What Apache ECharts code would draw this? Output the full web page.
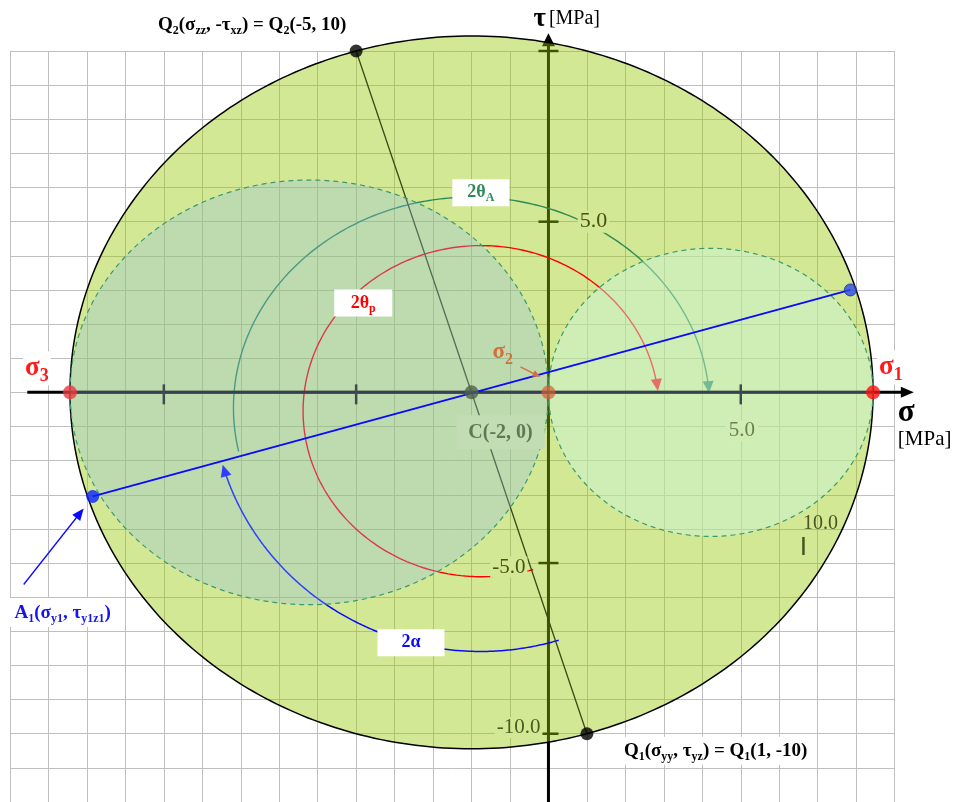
<!DOCTYPE html>
<html><head><meta charset="utf-8">
<script src="https://cdn.jsdelivr.net/npm/echarts@6/dist/echarts.min.js"></script>
<style>html,body{margin:0;padding:0;background:#fff}#c{width:954px;height:802px}</style>
</head><body><div id="c"></div><script>
// ---------- data ----------
const principalStresses = [8.44, 0, -12.44];      // σ1, σ2, σ3 [MPa]
const centreC = [-2, 0];
const pointQ1 = [1, -10];
const pointQ2 = [-5, 10];
const pointA1 = [-11.85, -3.05];
const pointA2 = [7.85, 3.0];
const sigmaTicks = [-10, -5, 5];
const tauTicks = [10, 5, -5, -10];
const tauLabelValues = [5, -5, -10];
const tauLabelTexts = ['5.0', '-5.0', '-10.0'];
const sigmaLabelValues = [5];
const sigmaLabelTexts = ['5.0'];
const strayTick = [6.63, -4.5];
const strayTickText = '10.0';
const sigmaAxisExtent = [-13.55, 9.5];
const tauAxisExtent = [-12.5, 10.52];
// arcs: [centre σ, centre τ, radius σ, radius τ, start angle°, end angle°]
const arcTwoThetaA = [-2.0, -0.45, 6.19, 6.17, 168, 356];
const arcTwoThetaP = [-1.75, -0.55, 4.63, 4.85, 73, 353];
const arcTwoAlpha = [-1.77, -0.04, 6.97, 7.55, 73, 164];

// ---------- derived ----------
const [s1, s2, s3] = principalStresses;
const mohrCircles = [
  [(s1 + s3) / 2, (s1 - s3) / 2],
  [(s2 + s3) / 2, (s2 - s3) / 2],
  [(s1 + s2) / 2, (s1 - s2) / 2]
];
const arcList = [arcTwoThetaA, arcTwoThetaP, arcTwoAlpha];

const FONT = '"Liberation Serif", "Times New Roman", serif';
const chart = echarts.init(document.getElementById('c'), null, {renderer: 'canvas', width: 954, height: 802});

function ellipsePts(c, rx, ry, n) {
  const p = [];
  for (let i = 0; i < n; i++) { const t = 2 * Math.PI * i / n; p.push([c[0] + rx * Math.cos(t), c[1] + ry * Math.sin(t)]); }
  return p;
}
function circleGeom(api, circ) {
  const c = api.coord([circ[0], 0]);
  const e = api.coord([circ[0] + circ[1], circ[1]]);
  return {c, rx: Math.abs(e[0] - c[0]), ry: Math.abs(c[1] - e[1])};
}
function arcGeom(api, a) {
  const c = api.coord([a[0], a[1]]);
  const e = api.coord([a[0] + a[2], a[1] + a[3]]);
  return {c, rx: Math.abs(e[0] - c[0]), ry: Math.abs(e[1] - c[1])};
}
function arcPoint(g, deg) {
  const t = deg * Math.PI / 180;
  return [g.c[0] + g.rx * Math.cos(t), g.c[1] + g.ry * Math.sin(t)];
}
function arrowHead(tip, ux, uy, L, W, color) {
  const b = [tip[0] - ux * L, tip[1] - uy * L];
  return {type: 'polygon', shape: {points: [tip, [b[0] - uy * W, b[1] + ux * W], [b[0] + uy * W, b[1] - ux * W]]}, style: {fill: color}};
}
function arrowLine(from, to, color, width, L, W) {
  const dx = to[0] - from[0], dy = to[1] - from[1], len = Math.hypot(dx, dy);
  const ux = dx / len, uy = dy / len;
  const b = [to[0] - ux * L * 0.8, to[1] - uy * L * 0.8];
  return [
    {type: 'line', shape: {x1: from[0], y1: from[1], x2: b[0], y2: b[1]}, style: {stroke: color, lineWidth: width}},
    arrowHead(to, ux, uy, L, W, color)
  ];
}
function rp(color, size, subSize, subPad, weight) {
  return {
    m: {fill: color, fontSize: size, fontFamily: FONT, fontWeight: weight},
    s: {fill: color, fontSize: subSize, fontFamily: FONT, fontWeight: weight, padding: [subPad, 0, 0, 0]}
  };
}

const arcColors = ['#2e8b57', '#ff0000', '#0a0aff'];
const arcWidths = [1.4, 1.4, 1.5];
const arcLabelCfg = [
  {angle: 272, dx: 1, dy: -4.5, w: 57, h: 27, text: '{m|2θ}{s|A}'},
  {angle: 225, dx: 8, dy: 9, w: 58, h: 27, text: '{m|2θ}{s|p}'},
  {angle: 105, dx: 0, dy: 0, w: 67, h: 27, text: '{m|2α}'}
];

const option = {
  animation: false,
  grid: {left: 10, top: 51, width: 884.6, height: 755.7},
  xAxis: {type: 'value', min: -14, max: 9, interval: 1,
    axisLine: {show: false}, axisTick: {show: false}, axisLabel: {show: false},
    splitLine: {show: true, lineStyle: {color: '#bfbfbf', width: 1}}},
  yAxis: {type: 'value', min: -12, max: 10, interval: 1,
    axisLine: {show: false}, axisTick: {show: false}, axisLabel: {show: false},
    splitLine: {show: true, lineStyle: {color: '#bfbfbf', width: 1}}},
  series: [
    { // axes (black, underneath the circles)
      type: 'custom', z: 1, silent: true, data: [[0, 0]],
      renderItem: (params, api) => {
        const L = api.coord([sigmaAxisExtent[0], 0]), R = api.coord([sigmaAxisExtent[1], 0]);
        const B = api.coord([0, tauAxisExtent[0]]), T = api.coord([0, tauAxisExtent[1]]);
        const kids = [
          {type: 'line', shape: {x1: L[0], y1: L[1], x2: R[0] - 10, y2: R[1]}, style: {stroke: '#000', lineWidth: 3}},
          arrowHead(R, 1, 0, 13, 5.5, '#000'),
          {type: 'line', shape: {x1: B[0], y1: B[1], x2: T[0], y2: T[1] + 10}, style: {stroke: '#000', lineWidth: 3}},
          arrowHead(T, 0, -1, 13, 6.5, '#000')
        ];
        tauTicks.forEach(v => {
          const p = api.coord([0, v]);
          kids.push({type: 'line', shape: {x1: p[0] - 10, y1: p[1], x2: p[0] + 10, y2: p[1]}, style: {stroke: '#000', lineWidth: 2.5}});
        });
        return {type: 'group', children: kids};
      }
    },
    { // big Mohr circle
      type: 'custom', z: 2, silent: true, data: [mohrCircles[0]],
      renderItem: (params, api) => {
        const g = circleGeom(api, mohrCircles[0]);
        return {type: 'polygon', shape: {points: ellipsePts(g.c, g.rx, g.ry, 360)},
          style: {fill: 'rgba(150,200,0,0.42)', stroke: '#000', lineWidth: 1.5}};
      }
    },
    { // Q1-Q2 line
      type: 'line', z: 3, silent: true, symbol: 'none', data: [pointQ2, pointQ1],
      lineStyle: {color: '#3a4a14', width: 1.3}
    },
    { // angle arcs
      type: 'custom', z: 3, silent: true, data: arcList.map(a => [a[0], a[1]]),
      renderItem: (params, api) => {
        const i = params.dataIndex, a = arcList[i], g = arcGeom(api, a);
        const t1 = a[5] * Math.PI / 180;
        let dx = -g.rx * Math.sin(t1), dy = g.ry * Math.cos(t1);
        const len = Math.hypot(dx, dy); dx /= len; dy /= len;
        const L = 12, dt = (L * 0.8) / len * 180 / Math.PI;
        const pts = [], n = 200;
        for (let k = 0; k <= n; k++) pts.push(arcPoint(g, a[4] + (a[5] - dt - a[4]) * k / n));
        const tip = arcPoint(g, a[5]);
        return {type: 'group', children: [
          {type: 'polyline', shape: {points: pts}, style: {stroke: arcColors[i], lineWidth: arcWidths[i], fill: null}},
          arrowHead(tip, dx, dy, L, 5.5, arcColors[i])
        ]};
      }
    },
    { // small Mohr circles (dashed)
      type: 'custom', z: 4, silent: true, data: [mohrCircles[1], mohrCircles[2]],
      renderItem: (params, api) => {
        const circ = mohrCircles[params.dataIndex + 1], g = circleGeom(api, circ);
        const fills = ['rgba(140,190,240,0.30)', 'rgba(200,245,220,0.45)'];
        return {type: 'polygon', shape: {points: ellipsePts(g.c, g.rx, g.ry, 360)},
          style: {fill: fills[params.dataIndex], stroke: '#3a9a6e', lineWidth: 1.2, lineDash: [5, 4]}};
      }
    },
    { // sigma axis overlay inside the circle + sigma ticks
      type: 'custom', z: 5, silent: true, data: [[0, 0]],
      renderItem: (params, api) => {
        const a = api.coord([s3, 0]), b = api.coord([s1, 0]);
        const kids = [{type: 'line', shape: {x1: a[0], y1: a[1], x2: b[0], y2: b[1]}, style: {stroke: '#36424d', lineWidth: 3}}];
        sigmaTicks.forEach(v => {
          const p = api.coord([v, 0]);
          kids.push({type: 'line', shape: {x1: p[0], y1: p[1] - 8, x2: p[0], y2: p[1] + 12}, style: {stroke: '#3f4b4c', lineWidth: 2.5}});
        });
        const st = api.coord(strayTick);
        kids.push({type: 'line', shape: {x1: st[0], y1: st[1] - 9, x2: st[0], y2: st[1] + 9}, style: {stroke: '#4a5420', lineWidth: 2.5}});
        return {type: 'group', children: kids};
      }
    },
    { // A1-A2 line
      type: 'line', z: 6, silent: true, symbol: 'none', data: [pointA1, pointA2],
      lineStyle: {color: '#0a0aff', width: 1.8}
    },
    { // points
      type: 'scatter', z: 7, silent: true, clip: false,
      data: [
        {value: [s3, 0], symbolSize: 14, itemStyle: {color: '#ea3a40'}},
        {value: [s1, 0], symbolSize: 14, itemStyle: {color: '#ff1010'}},
        {value: [s2, 0], symbolSize: 14, itemStyle: {color: 'rgba(212,96,56,0.88)'}},
        {value: centreC, symbolSize: 14, itemStyle: {color: '#4f6448'}},
        {value: pointQ1, symbolSize: 13, itemStyle: {color: '#000'}},
        {value: pointQ2, symbolSize: 13, itemStyle: {color: '#000'}},
        {value: pointA1, symbolSize: 13, itemStyle: {color: '#0a22ff'}},
        {value: pointA2, symbolSize: 12, itemStyle: {color: '#2a4ae8', borderColor: '#1a2a90', borderWidth: 1}}
      ]
    },
    { // labels
      type: 'custom', z: 8, silent: true, data: [[0, 0]],
      renderItem: (params, api) => {
        const kids = [];
        const add = (x, y, text, style) => kids.push({type: 'text', x, y, style: Object.assign({text}, style)});
        const plain = (size, color, weight) => ({fontSize: size, fontFamily: FONT, fontWeight: weight || 'normal', fill: color});

        // Q2 / Q1 labels
        const q2 = api.coord(pointQ2), q1 = api.coord(pointQ1);
        add(q2[0] - 104, q2[1] - 26, '{m|Q}{s|2}{m|(σ}{s|zz}{m|, -τ}{s|xz}{m|) = Q}{s|2}{m|(-5, 10)}',
          {rich: rp('#000', 19, 12, 12, 'bold'), align: 'center', verticalAlign: 'middle'});
        add(q1[0] + 33, q1[1] + 17, '{m|Q}{s|1}{m|(σ}{s|yy}{m|, τ}{s|yz}{m|) = Q}{s|1}{m|(1, -10)}',
          {rich: rp('#000', 19, 12, 12, 'bold'), align: 'left', verticalAlign: 'middle', backgroundColor: '#fff', padding: [2, 4, 2, 4]});

        // A1 label + arrow
        const a1 = api.coord(pointA1);
        add(a1[0] - 30, a1[1] + 116, '{m|A}{s|1}{m|(σ}{s|y1}{m|, τ}{s|y1z1}{m|)}',
          {rich: rp('#1414ee', 19, 12, 12, 'bold'), align: 'center', verticalAlign: 'middle', backgroundColor: '#fff', padding: [3, 14, 2, 14]});
        kids.push(...arrowLine([a1[0] - 69, a1[1] + 88], [a1[0] - 9, a1[1] + 12], '#0a0aff', 1.3, 12, 5));

        // principal stress labels
        const p1 = api.coord([s1, 0]), p2 = api.coord([s2, 0]), p3 = api.coord([s3, 0]);
        add(p3[0] - 47, p3[1] - 24, '{m|σ}{s|3}', {rich: rp('#ff1a1a', 27, 18, 16, 'bold'), align: 'left', verticalAlign: 'middle', backgroundColor: '#fff', padding: [0, 2, 0, 2]});
        add(p1[0] + 4, p1[1] - 25, '{m|σ}{s|1}', {rich: rp('#ff1a1a', 27, 18, 16, 'bold'), align: 'left', verticalAlign: 'middle', backgroundColor: '#fff', padding: [0, 2, 0, 2]});
        add(p2[0] - 56, p2[1] - 40, '{m|σ}{s|2}', {rich: rp('#d2703c', 23, 16, 14, 'bold'), align: 'left', verticalAlign: 'middle'});
        kids.push(...arrowLine([p2[0] - 28, p2[1] - 25.5], [p2[0] - 8, p2[1] - 15.5], '#d2703c', 1.4, 8, 3.5));

        // centre label
        const cc = api.coord(centreC);
        add(cc[0] + 29, cc[1] + 40, 'C(-2, 0)', Object.assign(plain(20, '#5f7856', 'bold'),
          {align: 'center', verticalAlign: 'middle', backgroundColor: '#c2dcb4', padding: [7, 12, 7, 12]}));

        // tick labels
        tauLabelValues.forEach((v, i) => {
          const p = api.coord([0, v]);
          const cfg = [[45, 0, 'center', '#4a5012', 22], [-21, 4, 'right', '#4a5218', 21], [-6, -6, 'right', '#4d5a20', 21]][i];
          add(p[0] + cfg[0], p[1] + cfg[1], tauLabelTexts[i], Object.assign(plain(cfg[4], cfg[3]),
            {align: cfg[2], verticalAlign: 'middle', backgroundColor: '#d3e894', padding: [0, 2, 0, 2]}));
        });
        sigmaLabelValues.forEach((v, i) => {
          const p = api.coord([v, 0]);
          add(p[0] + 1, p[1] + 38.5, sigmaLabelTexts[i], Object.assign(plain(21, '#6d7f55'),
            {align: 'center', verticalAlign: 'middle', backgroundColor: '#cfeeb4', padding: [0, 3, 0, 3]}));
        });
        const st = api.coord(strayTick);
        add(st[0] + 17, st[1] - 22, strayTickText, Object.assign(plain(20, '#4a5420'), {align: 'center', verticalAlign: 'middle'}));

        // axis titles
        const T = api.coord([0, tauAxisExtent[1]]), R = api.coord([sigmaAxisExtent[1], 0]);
        add(T[0] - 15, T[1] - 14, '{g|τ}{u|[MPa]}', {align: 'left', verticalAlign: 'middle', rich: {
          g: {fontSize: 27, fontFamily: FONT, fontWeight: 'bold', fill: '#000'},
          u: {fontSize: 20, fontFamily: FONT, fill: '#000', padding: [0, 0, 0, 3]}}});
        add(R[0] - 16, R[1] + 21, 'σ', Object.assign(plain(31, '#000', 'bold'), {align: 'left', verticalAlign: 'middle', backgroundColor: '#fff'}));
        add(R[0] - 16, R[1] + 47, '[MPa]', Object.assign(plain(21, '#000'), {align: 'left', verticalAlign: 'middle', backgroundColor: '#fff'}));

        // arc labels in white boxes
        arcLabelCfg.forEach((cfg, i) => {
          const g = arcGeom(api, arcList[i]);
          const p = arcPoint(g, cfg.angle);
          const x = p[0] + cfg.dx, y = p[1] + cfg.dy;
          kids.push({type: 'rect', shape: {x: x - cfg.w / 2, y: y - cfg.h / 2, width: cfg.w, height: cfg.h}, style: {fill: '#fff'}});
          add(x, y, cfg.text, {rich: rp(arcColors[i], 18, 12, 11, 'bold'), align: 'center', verticalAlign: 'middle'});
        });
        return {type: 'group', children: kids};
      }
    }
  ]
};
chart.setOption(option);
</script></body></html>
